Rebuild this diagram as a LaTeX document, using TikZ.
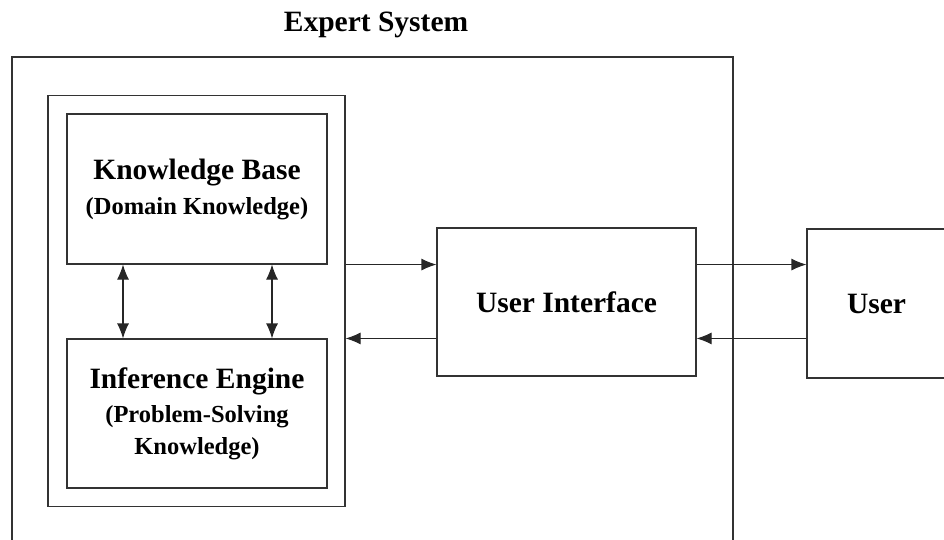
\documentclass[tikz,border=0pt]{standalone}
\usepackage{fontspec}
\setmainfont{Liberation Serif}
\usetikzlibrary{arrows.meta}
\usetikzlibrary{positioning}

\tikzset{
  box/.style={draw=black!80, line width=1.1pt, align=center, inner sep=0pt},
  link/.style={draw=black!85, line width=1.1pt, -{Latex[length=15pt,width=12pt]}},
  dlink/.style={draw=black!85, line width=1.1pt, {Latex[length=15pt,width=12pt]}-{Latex[length=15pt,width=12pt]}},
  big/.style={font=\bfseries\fontsize{29.5}{32}\selectfont},
}
\newcommand{\sub}[1]{{\fontsize{24.5}{31}\selectfont #1}}

\begin{document}
\begin{tikzpicture}[x=1pt, y=-1pt]
\useasboundingbox (0,0) rectangle (944,540);
\clip (0,0) rectangle (944,540);

%title
\node[big] (title) at (376,25) {Expert System};

%outer frame, runs off the page
\node[box, minimum width=721pt, minimum height=500pt] (system) at (372.5,307) {};

%inner panel
\node[box, minimum width=297pt, minimum height=411pt] (panel) at (196.5,301) {};

%knowledge base and inference engine
\node[box, big, minimum width=260pt, minimum height=150pt] (kb) at (197,189)
  {Knowledge Base\\[3pt]\sub{(Domain Knowledge)}};
\node[box, big, minimum width=260pt, minimum height=149pt] (ie) at (197,413.5)
  {Inference Engine\\[2pt]\sub{(Problem-Solving}\\[0pt]\sub{Knowledge)}};

%interface and user
\node[box, big, minimum width=259pt, minimum height=148pt] (ui) at (566.5,302) {User Interface};
\node[box, big, minimum width=139pt, minimum height=149pt] (user) at (876.5,303.5) {User};

%arrows
\draw[dlink] ([xshift=-74pt]kb.south) -- ([xshift=-74pt]ie.north);
\draw[dlink] ([xshift=75pt]kb.south) -- ([xshift=75pt]ie.north);
\draw[link] (panel.east |- kb.south) -- (ui.west |- kb.south);
\draw[link] (ui.west |- ie.north) -- (panel.east |- ie.north);
\draw[link] (ui.east |- kb.south) -- (user.west |- kb.south);
\draw[link] (user.west |- ie.north) -- (ui.east |- ie.north);
\end{tikzpicture}
\end{document}
